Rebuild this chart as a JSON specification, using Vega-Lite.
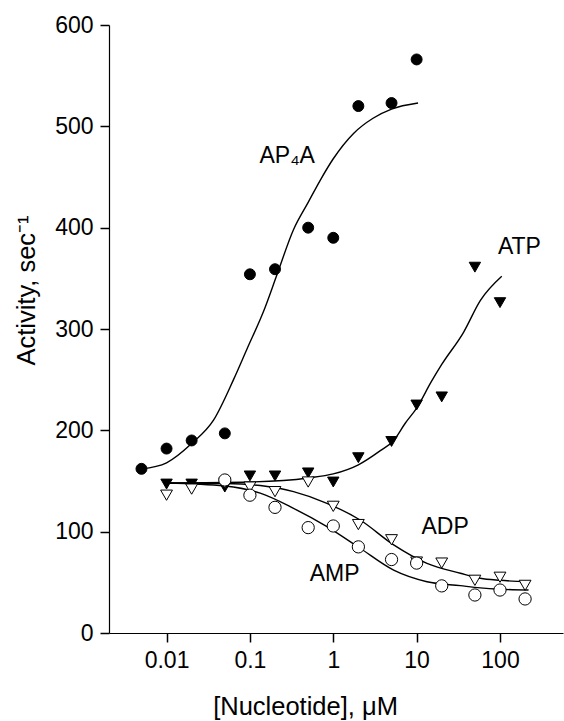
{
  "$schema": "https://vega.github.io/schema/vega-lite/v6.json",
  "width": 454,
  "height": 608,
  "autosize": "none",
  "padding": {"left": 109, "top": 25, "right": 1, "bottom": 88},
  "background": "white",
  "config": {
    "view": {"stroke": null},
    "font": "Liberation Sans",
    "axis": {
      "grid": false,
      "domainColor": "black",
      "domainWidth": 1.2,
      "tickColor": "black",
      "tickWidth": 1.5,
      "tickSize": 9,
      "labelColor": "black",
      "labelFont": "Liberation Sans",
      "labelFontSize": 23,
      "titleColor": "black",
      "titleFont": "Liberation Sans",
      "titleFontSize": 25.5,
      "titleFontWeight": "normal"
    }
  },
  "datasets": {
    "points": [
      {"series": "AP4A", "x": 0.005, "y": 162},
      {"series": "AP4A", "x": 0.01, "y": 182},
      {"series": "AP4A", "x": 0.02, "y": 190},
      {"series": "AP4A", "x": 0.05, "y": 197},
      {"series": "AP4A", "x": 0.1, "y": 354},
      {"series": "AP4A", "x": 0.2, "y": 359},
      {"series": "AP4A", "x": 0.5, "y": 400},
      {"series": "AP4A", "x": 1, "y": 390},
      {"series": "AP4A", "x": 2, "y": 520},
      {"series": "AP4A", "x": 5, "y": 523},
      {"series": "AP4A", "x": 10, "y": 566},
      {"series": "ATP", "x": 0.01, "y": 147},
      {"series": "ATP", "x": 0.02, "y": 147},
      {"series": "ATP", "x": 0.05, "y": 144},
      {"series": "ATP", "x": 0.1, "y": 155},
      {"series": "ATP", "x": 0.2, "y": 155},
      {"series": "ATP", "x": 0.5, "y": 158},
      {"series": "ATP", "x": 1, "y": 149},
      {"series": "ATP", "x": 2, "y": 173},
      {"series": "ATP", "x": 5, "y": 189},
      {"series": "ATP", "x": 10, "y": 225},
      {"series": "ATP", "x": 20, "y": 233},
      {"series": "ATP", "x": 50, "y": 361},
      {"series": "ATP", "x": 100, "y": 326},
      {"series": "ADP", "x": 0.01, "y": 136},
      {"series": "ADP", "x": 0.02, "y": 142},
      {"series": "ADP", "x": 0.05, "y": 148},
      {"series": "ADP", "x": 0.1, "y": 144},
      {"series": "ADP", "x": 0.2, "y": 139.5},
      {"series": "ADP", "x": 0.5, "y": 149},
      {"series": "ADP", "x": 1, "y": 125},
      {"series": "ADP", "x": 2, "y": 107},
      {"series": "ADP", "x": 5, "y": 92},
      {"series": "ADP", "x": 10, "y": 70},
      {"series": "ADP", "x": 20, "y": 69},
      {"series": "ADP", "x": 50, "y": 52},
      {"series": "ADP", "x": 100, "y": 55},
      {"series": "ADP", "x": 200, "y": 47},
      {"series": "AMP", "x": 0.05, "y": 151},
      {"series": "AMP", "x": 0.1, "y": 136},
      {"series": "AMP", "x": 0.2, "y": 124},
      {"series": "AMP", "x": 0.5, "y": 104},
      {"series": "AMP", "x": 1, "y": 105.6},
      {"series": "AMP", "x": 2, "y": 85},
      {"series": "AMP", "x": 5, "y": 72.5},
      {"series": "AMP", "x": 10, "y": 69},
      {"series": "AMP", "x": 20, "y": 46.5},
      {"series": "AMP", "x": 50, "y": 37.5},
      {"series": "AMP", "x": 100, "y": 42.4},
      {"series": "AMP", "x": 200, "y": 33.6}
    ],
    "curves": [
      {"curve": "AP4A", "x": 0.005, "y": 162},
      {"curve": "AP4A", "x": 0.01, "y": 168},
      {"curve": "AP4A", "x": 0.02, "y": 187},
      {"curve": "AP4A", "x": 0.0366, "y": 210},
      {"curve": "AP4A", "x": 0.0636, "y": 250},
      {"curve": "AP4A", "x": 0.092, "y": 280},
      {"curve": "AP4A", "x": 0.15, "y": 320},
      {"curve": "AP4A", "x": 0.21, "y": 353},
      {"curve": "AP4A", "x": 0.333, "y": 398},
      {"curve": "AP4A", "x": 0.5, "y": 425},
      {"curve": "AP4A", "x": 0.7, "y": 447},
      {"curve": "AP4A", "x": 1, "y": 468},
      {"curve": "AP4A", "x": 1.75, "y": 493},
      {"curve": "AP4A", "x": 3, "y": 508},
      {"curve": "AP4A", "x": 5, "y": 517},
      {"curve": "AP4A", "x": 10.4, "y": 523},
      {"curve": "ATP", "x": 0.01, "y": 148},
      {"curve": "ATP", "x": 0.1, "y": 149},
      {"curve": "ATP", "x": 0.5, "y": 153},
      {"curve": "ATP", "x": 1, "y": 157},
      {"curve": "ATP", "x": 2, "y": 166},
      {"curve": "ATP", "x": 3.67, "y": 180},
      {"curve": "ATP", "x": 5.3, "y": 190},
      {"curve": "ATP", "x": 7.3, "y": 207},
      {"curve": "ATP", "x": 10, "y": 222},
      {"curve": "ATP", "x": 15, "y": 248},
      {"curve": "ATP", "x": 20, "y": 265},
      {"curve": "ATP", "x": 36.7, "y": 297},
      {"curve": "ATP", "x": 58, "y": 328},
      {"curve": "ATP", "x": 105, "y": 352},
      {"curve": "ADP", "x": 0.01, "y": 148},
      {"curve": "ADP", "x": 0.05, "y": 147.5},
      {"curve": "ADP", "x": 0.133, "y": 145.5},
      {"curve": "ADP", "x": 0.334, "y": 139.5},
      {"curve": "ADP", "x": 0.84, "y": 128},
      {"curve": "ADP", "x": 2.1, "y": 111.5},
      {"curve": "ADP", "x": 5.3, "y": 87},
      {"curve": "ADP", "x": 13.3, "y": 68.8},
      {"curve": "ADP", "x": 33.5, "y": 59},
      {"curve": "ADP", "x": 58, "y": 54},
      {"curve": "ADP", "x": 100, "y": 52},
      {"curve": "ADP", "x": 220, "y": 50.5},
      {"curve": "AMP", "x": 0.01, "y": 148},
      {"curve": "AMP", "x": 0.05, "y": 145},
      {"curve": "AMP", "x": 0.133, "y": 138},
      {"curve": "AMP", "x": 0.334, "y": 123},
      {"curve": "AMP", "x": 0.84, "y": 105},
      {"curve": "AMP", "x": 2.1, "y": 83.6},
      {"curve": "AMP", "x": 5.3, "y": 62},
      {"curve": "AMP", "x": 13.3, "y": 50.6},
      {"curve": "AMP", "x": 33.5, "y": 46.7},
      {"curve": "AMP", "x": 58, "y": 44.5},
      {"curve": "AMP", "x": 100, "y": 43.2},
      {"curve": "AMP", "x": 220, "y": 42.4}
    ],
    "labels": [
      {"label": "AP₄A", "x": 0.28, "y": 471},
      {"label": "ATP", "x": 171, "y": 381},
      {"label": "ADP", "x": 22, "y": 105},
      {"label": "AMP", "x": 1.04, "y": 58}
    ]
  },
  "layer": [
    {
      "data": {"name": "curves"},
      "mark": {"type": "line", "interpolate": "monotone", "color": "black", "strokeWidth": 1.4},
      "encoding": {
        "x": {
          "field": "x", "type": "quantitative",
          "scale": {"type": "log", "domain": [0.00204, 570], "nice": false},
          "axis": {
            "title": "[Nucleotide], μM",
            "values": [0.01, 0.1, 1, 10, 100],
            "labelExpr": "'' + datum.value",
            "labelPadding": 7,
            "titleX": 196,
            "titleY": 73,
            "titleBaseline": "middle",
            "titleAlign": "center"
          }
        },
        "y": {
          "field": "y", "type": "quantitative",
          "scale": {"domain": [0, 600], "nice": false},
          "axis": {
            "title": "Activity, sec⁻¹",
            "values": [0, 100, 200, 300, 400, 500, 600],
            "labelPadding": 7,
            "titleX": -83,
            "titleY": 265,
            "titleAngle": -90,
            "titleBaseline": "middle",
            "titleAlign": "center"
          }
        },
        "detail": {"field": "curve"}
      }
    },
    {
      "data": {"name": "points"},
      "mark": {"type": "point", "filled": true, "stroke": "black", "strokeWidth": 1, "opacity": 1},
      "encoding": {
        "x": {"field": "x", "type": "quantitative"},
        "y": {"field": "y", "type": "quantitative"},
        "shape": {"field": "series", "scale": {"domain": ["AP4A", "ATP", "ADP", "AMP"], "range": ["circle", "triangle-down", "triangle-down", "circle"]}, "legend": null},
        "fill": {"field": "series", "scale": {"domain": ["AP4A", "ATP", "ADP", "AMP"], "range": ["black", "black", "white", "white"]}, "legend": null},
        "size": {"field": "series", "scale": {"domain": ["AP4A", "ATP", "ADP", "AMP"], "range": [120, 150, 150, 105]}, "legend": null}
      }
    },
    {
      "data": {"name": "labels"},
      "mark": {"type": "text", "fontSize": 23, "color": "black", "font": "Liberation Sans"},
      "encoding": {
        "x": {"field": "x", "type": "quantitative"},
        "y": {"field": "y", "type": "quantitative"},
        "text": {"field": "label"}
      }
    }
  ]
}
